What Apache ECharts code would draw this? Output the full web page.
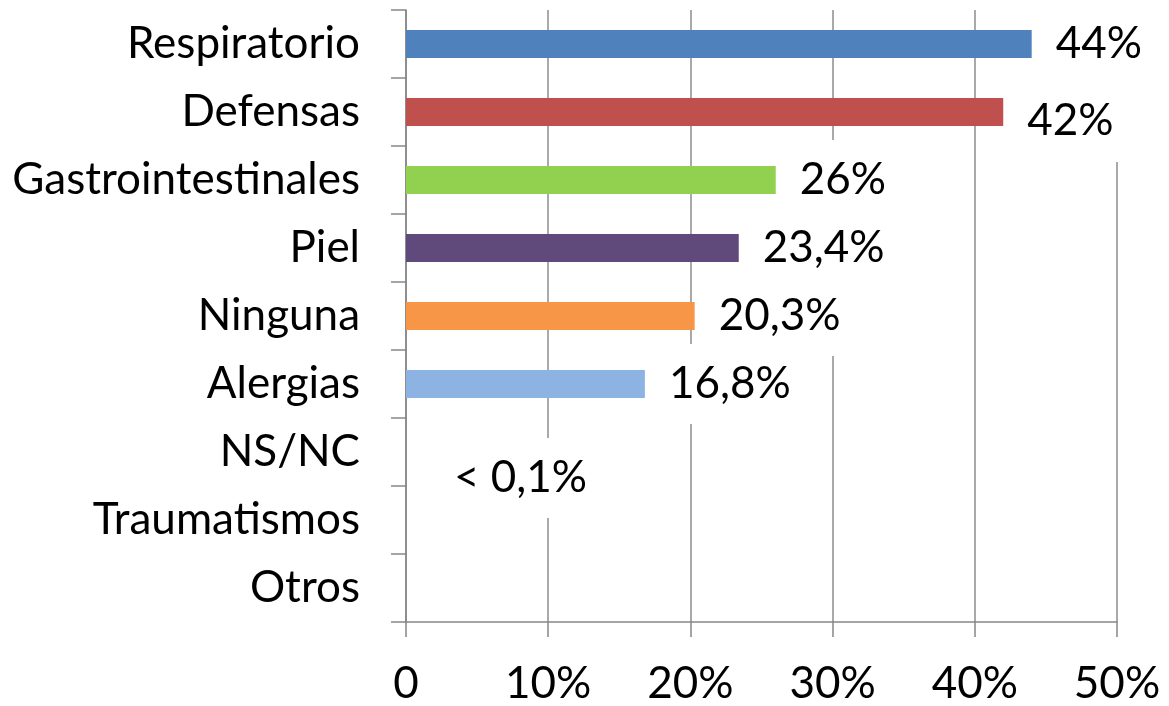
<!DOCTYPE html>
<html>
<head>
<meta charset="utf-8">
<script src="https://cdn.jsdelivr.net/npm/echarts@6/dist/echarts.min.js"></script>
<style>
  html, body { margin: 0; padding: 0; background: #fff; }
  #chart { width: 1169px; height: 706px; }
</style>
</head>
<body>
<div id="chart"></div>
<script>
// datos
var categories = ['Respiratorio', 'Defensas', 'Gastrointestinales', 'Piel', 'Ninguna', 'Alergias', 'NS/NC', 'Traumatismos', 'Otros'];
var values = [44, 42, 26, 23.4, 20.3, 16.8, 0, 0, 0];
var valueLabels = ['44%', '42%', '26%', '23,4%', '20,3%', '16,8%', '< 0,1%', '', ''];
var barColors = ['#4F81BD', '#C0504D', '#92D050', '#604A7B', '#F79646', '#8DB3E2', '#8DB3E2', '#8DB3E2', '#8DB3E2'];
var xTicks = [0, 10, 20, 30, 40, 50];

var fontName = 'Lato';
var axisGrey = '#868686';

var data = [];
for (var i = 0; i < values.length; i++) {
	var item = {
		value: values[i],
		itemStyle: { color: barColors[i] },
		label: {}
	};
	if (i == 1) {
		item.label.offset = [0, 9];
		item.label.padding = [22, 10, 16, 4];
	}
	if (i == 6) {
		item.label.distance = 44;
		item.label.offset = [0, 26];
	}
	data.push(item);
}

var myChart = echarts.init(document.getElementById('chart'));

var option = {
	animation: false,
	grid: { left: 406, right: 52, top: 10, bottom: 81 },
	xAxis: {
		type: 'value',
		min: xTicks[0],
		max: xTicks[xTicks.length - 1],
		interval: 10,
		axisLine: { show: true, lineStyle: { color: axisGrey, width: 1.5 } },
		axisTick: { show: true, length: 15, lineStyle: { color: axisGrey, width: 1.5 } },
		splitLine: { show: true, lineStyle: { color: '#8c8c8c', width: 1.5 } },
		axisLabel: {
			color: '#000',
			fontFamily: fontName,
			fontSize: 44,
			margin: 40,
			formatter: function(v) { return v == 0 ? '0' : v + '%'; }
		}
	},
	yAxis: {
		type: 'category',
		inverse: true,
		data: categories,
		axisLine: { show: true, lineStyle: { color: axisGrey, width: 1.5 } },
		axisTick: { show: true, length: 15, lineStyle: { color: axisGrey, width: 1.5 } },
		axisLabel: {
			color: '#000',
			fontFamily: fontName,
			fontSize: 44,
			margin: 46
		}
	},
	series: [{
		type: 'bar',
		data: data,
		barWidth: 28,
		label: {
			show: true,
			position: 'right',
			distance: 20,
			color: '#000',
			fontFamily: fontName,
			fontSize: 44,
			backgroundColor: '#fff',
			padding: [18, 6, 18, 4],
			formatter: function(p) { return valueLabels[p.dataIndex]; }
		}
	}]
};

myChart.setOption(option);
</script>
</body>
</html>
